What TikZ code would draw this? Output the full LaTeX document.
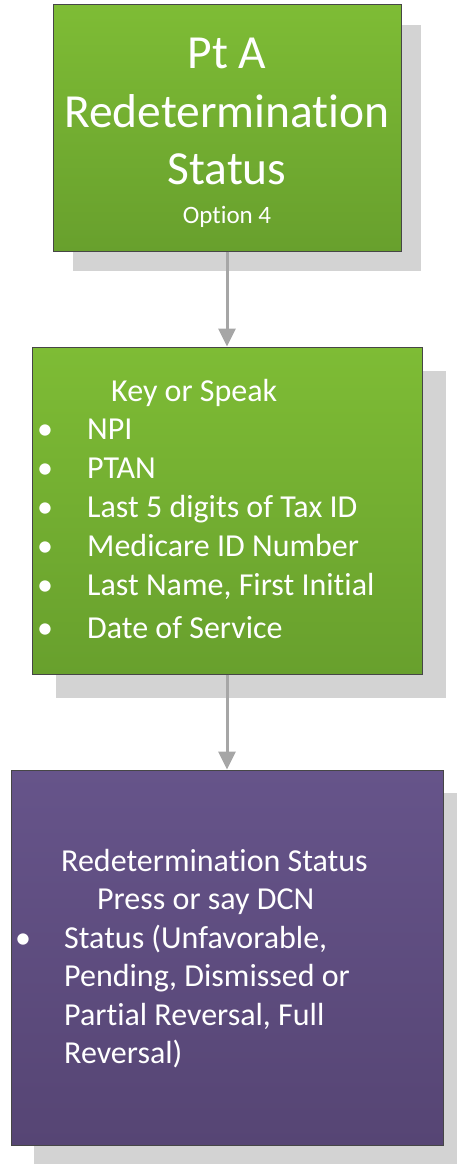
\documentclass[tikz,border=0pt]{standalone}
\usepackage{fontspec}
\setmainfont{Carlito}[RawFeature = {-liga;-clig;-dlig;-calt}]
\usepackage{tikz}
\usetikzlibrary{arrows.meta, positioning, calc, shadows}

\definecolor{greentop}{RGB}{126,188,53}
\definecolor{greenbot}{RGB}{104,160,45}
\definecolor{purpletop}{RGB}{102,84,138}
\definecolor{purplebot}{RGB}{86,69,116}
\definecolor{edgegray}{RGB}{70,70,70}
\definecolor{shadegray}{RGB}{211,211,211}
\definecolor{arrowgray}{RGB}{166,166,166}

\tikzset{
  flowbox/.style = {rectangle, draw = edgegray, line width = 1pt, inner sep = 0pt},
  greenbox/.style = {flowbox, top color = greentop, bottom color = greenbot},
  purplebox/.style = {flowbox, top color = purpletop, bottom color = purplebot},
  boxshadow/.style = {drop shadow = {shadow xshift = #1, shadow yshift = -#1, fill = shadegray, opacity = 1}},
  boxtext/.style = {text = white, inner sep = 0pt, anchor = base west, font = \fontsize{32}{38}\selectfont},
  flowarrow/.style = {draw = arrowgray, line width = 3pt, -{Triangle[width = 17pt, length = 18pt]}}
}

\begin{document}
\begin{tikzpicture}[x = 1pt, y = -1pt]
\useasboundingbox (0, 0) rectangle (456, 1164);
\node[greenbox, boxshadow = 20pt, minimum width = 348pt, minimum height = 246pt] at (227, 128) (status) {};
\node[greenbox, boxshadow = 23.5pt, minimum width = 390pt, minimum height = 327pt] at (227, 510.5) (keys) {};
\node[purplebox, boxshadow = 22.5pt, minimum width = 432pt, minimum height = 375pt] at (227, 957.5) (result) {};
\foreach \y\t in {68/Pt A, 127/Redetermination, 184/Status}{\node[boxtext, anchor = base, font = \fontsize{47.5}{56}\selectfont] at (227, \y) (title\y) {\t};}
\node[boxtext, anchor = base, font = \fontsize{25}{30}\selectfont] at (227, 223) (option) {Option 4};
\node[boxtext] at (111, 401) (keyhead) {Key or Speak};
\foreach \y\t in {439/NPI, 478/PTAN, 517/Last 5 digits of Tax ID, 556/Medicare ID Number, 595/{Last Name, First Initial}, 638/Date of Service}{
\node[boxtext, anchor = base] at (45, \y) (dot\y) {\textbullet};
\node[boxtext] at (87, \y) (item\y) {\t};}
\node[boxtext] at (61, 871) (reshead) {Redetermination Status};
\node[boxtext] at (97, 909) (dcn) {Press or say DCN};
\node[boxtext, anchor = base] at (23, 948) (dot948) {\textbullet};
\foreach \y\t in {948/{Status (Unfavorable,}, 986/{Pending, Dismissed or}, 1025/{Partial Reversal, Full}, 1063/Reversal)}{\node[boxtext] at (64, \y) (line\y) {\t};}
\draw[flowarrow] (status) -- (keys);
\draw[flowarrow] (keys) -- (result);
\end{tikzpicture}
\end{document}
